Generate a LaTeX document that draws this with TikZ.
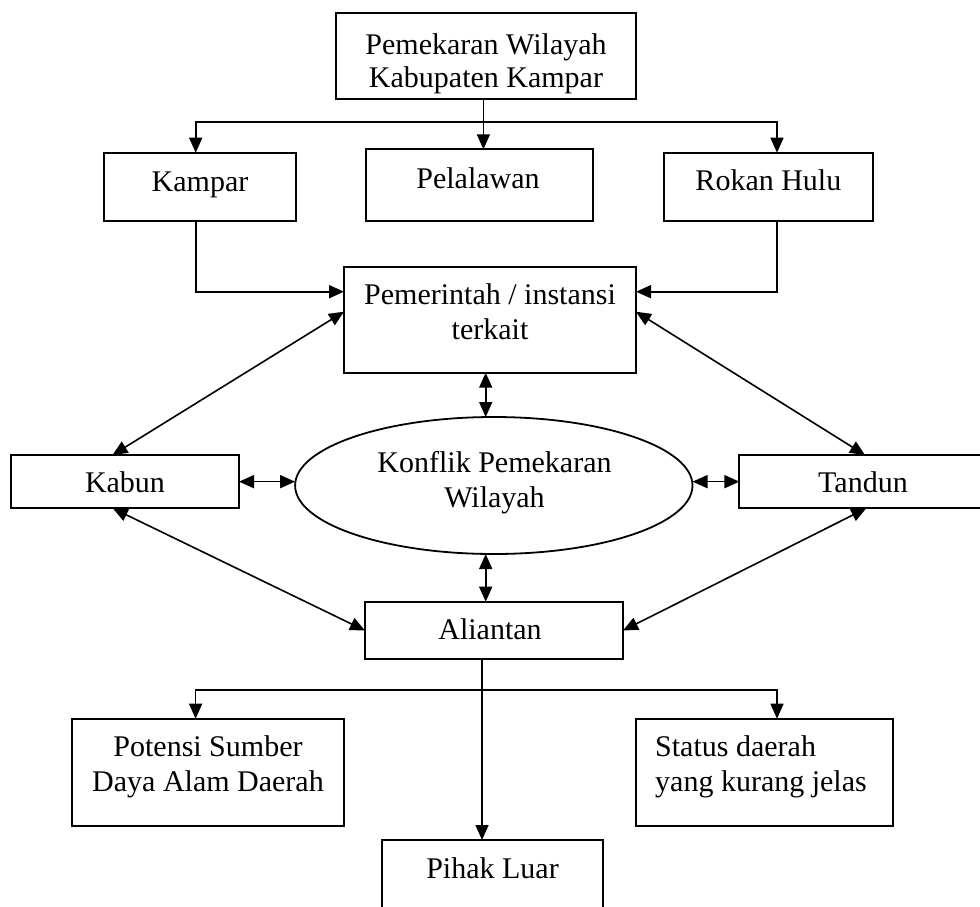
\documentclass[tikz,border=0pt]{standalone}
\usepackage{fontspec}
\setmainfont{Liberation Serif}
\usetikzlibrary{arrows.meta,shapes.geometric}
\begin{document}
\begin{tikzpicture}[x=1pt,y=-1pt,
  font=\fontsize{30}{35}\selectfont,
  >={Triangle[length=15pt,width=13pt]},
  box/.style={draw, line width=2pt, inner sep=0pt, outer sep=0pt},
  oval/.style={draw, ellipse, line width=1.8pt, inner sep=0pt, outer sep=0pt},
  con/.style={line width=1.6pt},
  txt/.style={anchor=base, align=center, inner sep=0pt},
  txtl/.style={anchor=base west, align=left, inner sep=0pt}]
\useasboundingbox (0,0) rectangle (980,906);
% boxes
\node[box, minimum width=300pt, minimum height=86.3pt] (top) at (486,55.85) {};
\node[box, minimum width=191.7pt, minimum height=68pt] (kampar) at (199.85,186.7) {};
\node[box, minimum width=227.1pt, minimum height=71.7pt] (pelalawan) at (479.05,185.15) {};
\node[box, minimum width=209pt, minimum height=68pt] (rokan) at (768.5,186.7) {};
\node[box, minimum width=292pt, minimum height=106pt] (pem) at (490,319.7) {};
\node[oval, minimum width=397.4pt, minimum height=137pt] (konf) at (493.8,485.5) {};
\node[box, minimum width=228.4pt, minimum height=53.3pt] (kabun) at (124.8,481.65) {};
\node[box, minimum width=247.6pt, minimum height=53.3pt] (tandun) at (863.2,481.65) {};
\node[box, minimum width=258pt, minimum height=57.6pt] (ali) at (494,630.5) {};
\node[box, minimum width=272pt, minimum height=107.3pt] (potensi) at (208,772.35) {};
\node[box, minimum width=256.9pt, minimum height=107.3pt] (status) at (764.05,772.35) {};
\node[box, minimum width=221.3pt, minimum height=90pt] (pihak) at (492.65,885) {};
% texts (base anchor = baseline of last line)
\node[txt, font=\fontsize{30}{33}\selectfont] (ttop) at (486,87) {Pemekaran Wilayah\\Kabupaten Kampar};
\node[txt] (tkampar) at (200,191.7) {Kampar};
\node[txt] (tpel) at (478,188) {Pelalawan};
\node[txt] (trokan) at (768.4,190.7) {Rokan Hulu};
\node[txt] (tpem) at (490,339) {Pemerintah / instansi\\terkait};
\node[txt] (tkonf) at (494.5,507) {Konflik Pemekaran\\Wilayah};
\node[txt] (tkabun) at (125,492.5) {Kabun};
\node[txt] (ttandun) at (863,492.5) {Tandun};
\node[txt] (tali) at (490,639) {Aliantan};
\node[txt] (tpot) at (208,791.7) {Potensi Sumber\\Daya Alam Daerah};
\node[txtl] (tstat) at (655,791.7) {Status daerah\\yang kurang jelas};
\node[txt] (tpihak) at (492.5,878) {Pihak Luar};
% junctions
\coordinate (j1) at (483.4,121.7);
\coordinate (kL) at (195.7,121.7);
\coordinate (rL) at (777,121.7);
\coordinate (mx) at (485.7,0);
\coordinate (b1) at (482,690);
\coordinate (pL) at (195.6,690);
\coordinate (sL) at (777,690);
% top distribution
\draw[con] (top.south -| j1) -- (j1);
\draw[con,->] (j1) -- (kL) -- (kL |- kampar.north);
\draw[con,->] (j1) -- (rL) -- (rL |- rokan.north);
\draw[con,->] (j1) -- (j1 |- pelalawan.north);
% to Pemerintah
\draw[con,->] (kL |- kampar.south) |- ([yshift=28pt]pem.west);
\draw[con,->] (rL |- rokan.south) |- ([yshift=28pt]pem.east);
% double arrows
\draw[con,<->] (pem.south -| mx) -- (konf.north -| mx);
\draw[con,<->] (konf.south -| mx) -- (ali.north -| mx);
\draw[con,<->] (kabun.east) -- (kabun.east -| konf.west);
\draw[con,<->] (tandun.west) -- (tandun.west -| konf.east);
\draw[con,<->] ([yshift=8pt]pem.west) -- ([xshift=-12.3pt]kabun.north);
\draw[con,<->] ([yshift=8pt]pem.east) -- ([xshift=1.8pt]tandun.north);
\draw[con,<->] ([xshift=-12pt]kabun.south) -- (ali.west);
\draw[con,<->] ([xshift=3pt]tandun.south) -- (ali.east);
% bottom distribution
\draw[con,->] (ali.south -| b1) -- (b1 |- pihak.north);
\draw[con,->] (b1) -- (pL) -- (pL |- potensi.north);
\draw[con,->] (b1) -- (sL) -- (sL |- status.north);
\end{tikzpicture}
\end{document}
